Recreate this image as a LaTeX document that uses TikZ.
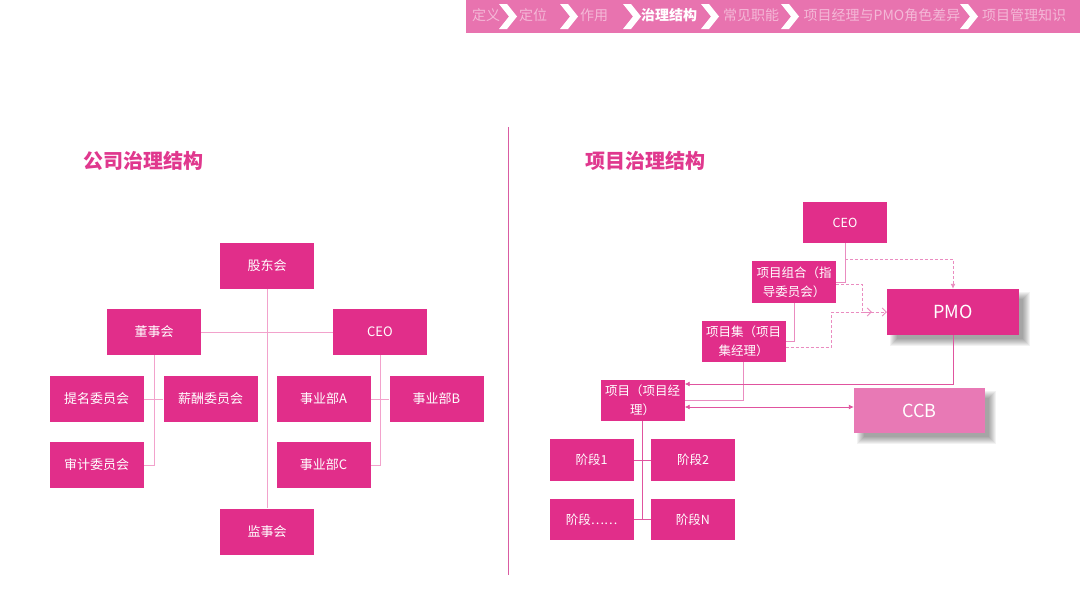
\documentclass[tikz,border=0pt]{standalone}
\usepackage{fontspec}
\setmainfont{Noto Sans CJK SC}
\usetikzlibrary{arrows.meta,calc,backgrounds}
\definecolor{boxc}{HTML}{E12E8A}
\definecolor{barc}{HTML}{E873AF}
\definecolor{bartxt}{HTML}{F4B8D7}
\definecolor{linec}{HTML}{F2A2CC}
\definecolor{rlinec}{HTML}{EA8CC0}
\definecolor{darkline}{HTML}{E0549F}
\definecolor{titlec}{HTML}{E0388E}
\definecolor{ccbc}{HTML}{E879B5}
\definecolor{sepc}{HTML}{DA5CA2}
\begin{document}
\begin{tikzpicture}[x=1pt,y=-1pt,
  lbox/.style={fill=boxc,text=white,inner sep=0pt,minimum width=94pt,minimum height=46pt,font=\fontsize{13}{15}\selectfont},
  rbox/.style={fill=boxc,text=white,inner sep=0pt,minimum width=84pt,minimum height=41.5pt,align=center,font=\fontsize{12.5}{19}\selectfont},
  bigbox/.style={inner sep=0pt,text=white,font=\fontsize{18}{20}\selectfont},
  lline/.style={draw=linec,line width=0.9pt},
  rline/.style={draw=rlinec,line width=0.9pt},
  aline/.style={draw=darkline,line width=0.9pt},
  dline/.style={draw=rlinec,line width=0.9pt,dash pattern=on 3pt off 2pt},
  bartext/.style={text=bartxt,font=\fontsize{14}{16}\selectfont,inner sep=0pt},
  titletext/.style={text=titlec,font=\bfseries\fontsize{20}{22}\selectfont,inner sep=0pt,anchor=west},
  blurlayer/.style={fill=black,opacity=0.05}
]
\path[use as bounding box] (0,0) rectangle (1080,608);

% top navigation bar
\fill[barc] (466,0) rectangle (1080,33);
\foreach \x in {499,560,623,701,781,960}
  \fill[white] (\x,4) -- (\x+8,4) -- (\x+18,16.5) -- (\x+8,29) -- (\x,29) -- (\x+10,16.5) -- cycle;
\node[bartext] (n1) at (486,15) {定义};
\node[bartext] (n2) at (533,15) {定位};
\node[bartext] (n3) at (594,15) {作用};
\node[bartext,text=white,font=\bfseries\fontsize{14}{16}\selectfont] (n4) at (669,15) {治理结构};
\node[bartext] (n5) at (751,15) {常见职能};
\node[bartext] (n6) at (882,15) {项目经理与PMO角色差异};
\node[bartext] (n7) at (1024,15) {项目管理知识};

% separator
\draw[draw=sepc,line width=1pt] (508,127) -- (508,575);

% titles
\node[titletext] (t1) at (83,161) {公司治理结构};
\node[titletext] (t2) at (585,161) {项目治理结构};

% left tree
\node[lbox] (gd) at (267,265.5) {股东会};
\node[lbox] (dsh) at (154,332) {董事会};
\node[lbox] (ceol) at (380,332) {CEO};
\node[lbox] (tm) at (96.5,399) {提名委员会};
\node[lbox] (xc) at (210.5,399) {薪酬委员会};
\node[lbox] (sya) at (323.5,399) {事业部A};
\node[lbox] (syb) at (436.5,399) {事业部B};
\node[lbox] (sj) at (96.5,465) {审计委员会};
\node[lbox] (syc) at (323.5,465) {事业部C};
\node[lbox] (js) at (267,531.5) {监事会};

\draw[lline] (gd.south) -- (js.north);
\draw[lline] (dsh.east) -- (ceol.west);
\draw[lline] (dsh.south) |- (sj.east);
\draw[lline] (tm.east) -- (xc.west);
\draw[lline] (ceol.south) |- (syc.east);
\draw[lline] (sya.east) -- (syb.west);

% right tree
\node[rbox] (ceo) at (845,222.5) {CEO};
\node[rbox] (zh) at (794,282) {项目组合（指\\导委员会）};
\node[rbox] (jj) at (743.5,341.5) {项目集（项目\\集经理）};
\node[rbox] (xm) at (642.5,400.5) {项目（项目经\\理）};
\node[bigbox,fill=boxc,minimum width=132pt,minimum height=46pt] (pmo) at (953,312) {PMO};
\node[bigbox,fill=ccbc,minimum width=131pt,minimum height=45pt] (ccb) at (919.5,410.5) {CCB};
\node[rbox] (jd1) at (591.5,460) {阶段1};
\node[rbox] (jd2) at (693,460) {阶段2};
\node[rbox] (jdx) at (591.5,519.5) {阶段……};
\node[rbox] (jdn) at (693,519.5) {阶段N};

% white page and soft shadows of PMO and CCB
\begin{scope}[on background layer]
  \fill[white] (0,0) rectangle (1080,608);
  \foreach \n in {pmo,ccb}
    \foreach \r in {-3,...,4}
      \fill[blurlayer] ($(\n.north west)+(7-\r,7-\r)$) rectangle ($(\n.south east)+(7+\r,7+\r)$);
\end{scope}

\draw[rline] (ceo.south) |- (zh.east);
\draw[rline] (zh.south) |- (jj.east);
\draw[rline] (jj.south) |- (xm.east);
\draw[dline,-{Latex[length=5pt,width=5pt]}] ($(ceo.south)+(0,15.5)$) -| (pmo.north);
\draw[dline,-{Straight Barb[length=4pt,width=8pt]}] ($(zh.east)+(0,2.5)$) -| ($(pmo.west)+(-24,0)$) -- ($(pmo.west)+(-15,0)$);
\draw[dline,-{Straight Barb[length=4pt,width=8pt]}] ($(jj.east)+(0,5.5)$) -| ($(pmo.west)+(-55,0)$) -- (pmo.west);
\draw[aline,-{Latex[length=5pt,width=5pt]}] (pmo.south) |- ($(xm.east)+(0,-16.5)$);
\draw[aline,{Latex[length=5pt,width=5pt]}-{Latex[length=5pt,width=5pt]}] ($(xm.east)+(0,6.5)$) -- ($(ccb.west)+(0,-3.5)$);

\draw[aline] (xm.south) -- (xm.south |- jdx.east);
\draw[aline] (jd1.east) -- (jd2.west);
\draw[aline] (jdx.east) -- (jdn.west);
\end{tikzpicture}
\end{document}
